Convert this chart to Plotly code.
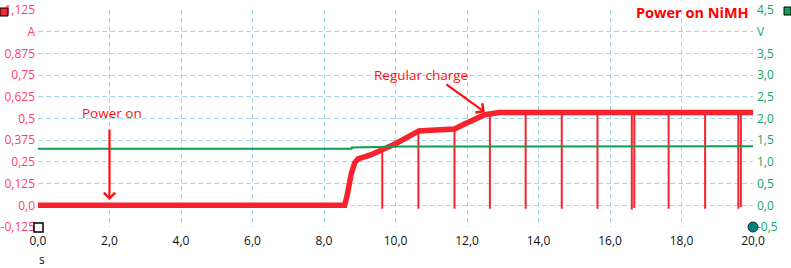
import plotly.graph_objects as go

# ---- data ----
# current trace (A) key points
cur_t = [0.0, 8.58, 8.66, 8.76, 8.86, 8.95, 9.3, 9.6, 10.0, 10.4, 10.65, 11.0, 11.65, 11.9, 12.2, 12.5, 12.9, 20.0]
cur_a = [0.0, 0.0, 0.07, 0.18, 0.245, 0.268, 0.29, 0.315, 0.355, 0.40, 0.428, 0.432, 0.44, 0.465, 0.495, 0.522, 0.535, 0.535]

# short dropouts of the current to zero
spike_t = [9.63, 10.64, 11.65, 12.64, 13.64, 14.65, 15.65, 16.61, 16.68, 17.64, 18.66, 19.59, 19.66]
spike_top = [0.315, 0.43, 0.44, 0.52, 0.535, 0.535, 0.535, 0.535, 0.535, 0.535, 0.535, 0.535, 0.535]
spike_low = [-0.02, -0.02, -0.02, -0.02, -0.02, -0.02, -0.02, -0.025, -0.015, -0.02, -0.02, -0.02, -0.01]

# voltage trace (V)
volt_t = [0.0, 8.77, 8.78, 10.2, 20.0]
volt_v = [1.305, 1.305, 1.33, 1.355, 1.36]

# axis ticks
x_ticks = [0, 2, 4, 6, 8, 10, 12, 14, 16, 18, 20]
x_labels = ["0,0", "2,0", "4,0", "6,0", "8,0", "10,0", "12,0", "14,0", "16,0", "18,0", "20,0"]
a_ticks = [1.125, 1.0, 0.875, 0.75, 0.625, 0.5, 0.375, 0.25, 0.125, 0.0, -0.125]
a_labels = ["1,125", "A", "0,875", "0,75", "0,625", "0,5", "0,375", "0,25", "0,125", "0,0", "-0,125"]
v_ticks = [4.5, 4.0, 3.5, 3.0, 2.5, 2.0, 1.5, 1.0, 0.5, 0.0, -0.5]
v_labels = ["4,5", "V", "3,5", "3,0", "2,5", "2,0", "1,5", "1,0", "0,5", "0,0", "-0,5"]

RED = "#f8222e"
GREEN = "#0aa050"
GRID = "#a9d6e2"
FONT = "Open Sans"

# build spike segments
sx, sy = [], []
for t, top, low in zip(spike_t, spike_top, spike_low):
    sx += [t, t, None]
    sy += [top, low, None]

fig = go.Figure()
fig.add_trace(go.Scatter(x=volt_t, y=volt_v, yaxis="y2", mode="lines",
                         line=dict(color=GREEN, width=2), hoverinfo="skip"))
fig.add_trace(go.Scatter(x=sx, y=sy, mode="lines",
                         line=dict(color=RED, width=2), hoverinfo="skip"))
fig.add_trace(go.Scatter(x=cur_t, y=cur_a, mode="lines",
                         line=dict(color=RED, width=5.5), hoverinfo="skip"))

fig.update_layout(
    width=791, height=268,
    margin=dict(l=38, r=38, t=10, b=41, autoexpand=False),
    paper_bgcolor="white", plot_bgcolor="white",
    showlegend=False,
    font=dict(family=FONT, size=11.5),
    xaxis=dict(range=[0, 20], tickvals=x_ticks, ticktext=x_labels,
               showgrid=True, gridcolor=GRID, griddash="5px,3px", gridwidth=1,
               zeroline=False, showline=False, ticks="", automargin=False,
               ticklabelstandoff=5,
               tickfont=dict(color="#111111", size=12, family=FONT)),
    yaxis=dict(range=[-0.125, 1.125], tickvals=a_ticks, ticktext=a_labels,
               showgrid=True, gridcolor=GRID, griddash="5px,3px", gridwidth=1,
               zeroline=False, showline=False, ticks="", automargin=False,
               ticklabelstandoff=2,
               tickfont=dict(color="#ff4060", size=12, family=FONT)),
    yaxis2=dict(range=[-0.5, 4.5], tickvals=v_ticks, ticktext=v_labels,
                overlaying="y", side="right", showgrid=False,
                zeroline=False, showline=False, ticks="", automargin=False,
                ticklabelstandoff=3,
                tickfont=dict(color="#10a860", size=12, family=FONT)),
)

anns = [
    dict(text="<b>Power on NiMH</b>", xref="paper", yref="paper", x=0.997, y=0.99,
         xanchor="right", yanchor="middle", showarrow=False,
         font=dict(color="#ff0000", size=14.5, family=FONT)),
    dict(text="Power on", x=2.06, y=0.53, xanchor="center", yanchor="middle",
         showarrow=False, font=dict(color="#ff1010", size=13.5, family=FONT)),
    dict(text="", x=2.0, y=0.03, ax=0, ay=-72, showarrow=True,
         arrowhead=4, arrowsize=1, arrowwidth=2.2, arrowcolor="#ff1010"),
    dict(text="Regular charge", x=10.71, y=0.749, xanchor="center", yanchor="middle",
         showarrow=False, font=dict(color="#ff1010", size=13.5, family=FONT)),
    dict(text="", x=12.5, y=0.536, ax=-40, ay=-29, showarrow=True,
         arrowhead=4, arrowsize=1, arrowwidth=2.2, arrowcolor="#ff1010"),
    dict(text="s", xref="paper", yref="paper", x=0.006, y=-0.152,
         xanchor="center", yanchor="middle", showarrow=False,
         font=dict(color="#111111", size=12, family=FONT)),
]
fig.update_layout(annotations=anns)

shapes = [
    # red square top-left
    dict(type="rect", xref="paper", yref="paper", xsizemode="pixel", ysizemode="pixel",
         xanchor=0, yanchor=1, x0=-38, x1=-30, y0=-6, y1=2,
         fillcolor="#f0283a", line=dict(color="black", width=1), layer="above"),
    # green square top-right
    dict(type="rect", xref="paper", yref="paper", xsizemode="pixel", ysizemode="pixel",
         xanchor=1, yanchor=1, x0=31, x1=38, y0=-5, y1=3,
         fillcolor="#10a050", line=dict(color="black", width=1), layer="above"),
    # white square bottom-left
    dict(type="rect", xref="paper", yref="paper", xsizemode="pixel", ysizemode="pixel",
         xanchor=0, yanchor=0, x0=-4, x1=5, y0=-5, y1=4,
         fillcolor="white", line=dict(color="black", width=1.5), layer="above"),
    # teal circle bottom-right
    dict(type="circle", xref="paper", yref="paper", xsizemode="pixel", ysizemode="pixel",
         xanchor=1, yanchor=0, x0=-5, x1=5, y0=-5, y1=5,
         fillcolor="#008080", line=dict(color="#103030", width=1), layer="above"),
]
fig.update_layout(shapes=shapes)

fig.write_html("out.html")
